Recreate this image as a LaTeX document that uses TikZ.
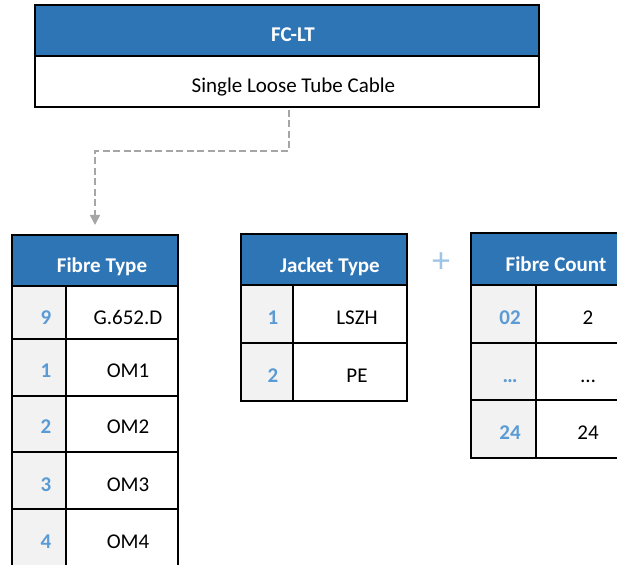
\documentclass[tikz,border=0pt]{standalone}
\usepackage{fontspec}
\setmainfont{Carlito}
\usetikzlibrary{calc,arrows.meta}
\definecolor{hdrblue}{HTML}{2E75B6}
\definecolor{numblue}{HTML}{5B9BD5}
\definecolor{cellgray}{HTML}{F2F2F2}
\definecolor{conngray}{HTML}{A6A6A6}
\definecolor{plusblue}{HTML}{9DC3E6}
\begin{document}
\begin{tikzpicture}[x=1pt,y=1pt,
  box/.style={inner sep=0pt, outer sep=0pt, anchor=north west},
  hdr/.style={box, fill=hdrblue},
  keycell/.style={box, fill=cellgray},
  valcell/.style={box, fill=white},
  hdrtext/.style={anchor=base, text=white, font=\fontsize{21}{21}\selectfont\bfseries, inner sep=0pt},
  keytext/.style={anchor=base, text=numblue, font=\fontsize{21}{21}\selectfont\bfseries, inner sep=0pt},
  valtext/.style={anchor=base, text=black, font=\fontsize{21}{21}\selectfont, inner sep=0pt},
  frame/.style={draw=black, line width=1.6pt},
  conn/.style={draw=conngray, line width=1.5pt, dash pattern=on 7pt off 3.5pt, -{Triangle[length=10pt,width=10pt]}}]
\useasboundingbox (0,0) rectangle (617,564);
\clip (0,0) rectangle (617,564);
% top box
\node[hdr, minimum width=504, minimum height=51] (tophdr) at (35,559) {};
\node[valcell, minimum width=504, minimum height=51] (topbody) at (35,508) {};
% fibre type
\node[hdr, minimum width=166, minimum height=51] (fth) at (12,329) {};
\node[keycell, minimum width=54, minimum height=53] (ftk1) at (12,278) {};
\node[valcell, minimum width=112, minimum height=53] (ftv1) at (66,278) {};
\node[keycell, minimum width=54, minimum height=57] (ftk2) at (12,225) {};
\node[valcell, minimum width=112, minimum height=57] (ftv2) at (66,225) {};
\node[keycell, minimum width=54, minimum height=56] (ftk3) at (12,168) {};
\node[valcell, minimum width=112, minimum height=56] (ftv3) at (66,168) {};
\node[keycell, minimum width=54, minimum height=57] (ftk4) at (12,112) {};
\node[valcell, minimum width=112, minimum height=57] (ftv4) at (66,112) {};
\node[keycell, minimum width=54, minimum height=57] (ftk5) at (12,55) {};
\node[valcell, minimum width=112, minimum height=57] (ftv5) at (66,55) {};
% jacket type
\node[hdr, minimum width=166, minimum height=51] (jth) at (241,330) {};
\node[keycell, minimum width=52, minimum height=58] (jtk1) at (241,279) {};
\node[valcell, minimum width=114, minimum height=58] (jtv1) at (293,279) {};
\node[keycell, minimum width=52, minimum height=58] (jtk2) at (241,221) {};
\node[valcell, minimum width=114, minimum height=58] (jtv2) at (293,221) {};
% fibre count
\node[hdr, minimum width=179, minimum height=52] (fch) at (471,331) {};
\node[keycell, minimum width=65, minimum height=58] (fck1) at (471,279) {};
\node[valcell, minimum width=114, minimum height=58] (fcv1) at (536,279) {};
\node[keycell, minimum width=65, minimum height=57] (fck2) at (471,221) {};
\node[valcell, minimum width=114, minimum height=57] (fcv2) at (536,221) {};
\node[keycell, minimum width=65, minimum height=58] (fck3) at (471,164) {};
\node[valcell, minimum width=114, minimum height=58] (fcv3) at (536,164) {};
% frames
\foreach \n in {tophdr,topbody,fth,ftk1,ftv1,ftk2,ftv2,ftk3,ftv3,ftk4,ftv4,ftk5,ftv5,
  jth,jtk1,jtv1,jtk2,jtv2,fch,fck1,fcv1,fck2,fcv2,fck3,fcv3}
  \draw[frame] (\n.north west) rectangle (\n.south east);
% texts
\node[hdrtext] (t1) at (293,522) {FC-LT};
\node[valtext] (t2) at (293.5,471) {Single Loose Tube Cable};
\node[hdrtext] (t3) at (102,291) {Fibre Type};
\node[hdrtext] (t4) at (330,291) {Jacket Type};
\node[hdrtext] (t5) at (556,292) {Fibre Count};
\node[keytext] (a1) at (46,239) {9};
\node[valtext] (b1) at (128,239) {G.652.D};
\node[keytext] (a2) at (46,186) {1};
\node[valtext] (b2) at (128,186) {OM1};
\node[keytext] (a3) at (46,130) {2};
\node[valtext] (b3) at (128,130) {OM2};
\node[keytext] (a4) at (46,73) {3};
\node[valtext] (b4) at (128,73) {OM3};
\node[keytext] (a5) at (46,16) {4};
\node[valtext] (b5) at (128,16) {OM4};
\node[keytext] (c1) at (273,239) {1};
\node[valtext] (d1) at (357,239) {LSZH};
\node[keytext] (c2) at (273,181) {2};
\node[valtext] (d2) at (357,181) {PE};
\node[keytext] (e1) at (510,239) {02};
\node[valtext] (f1) at (588,239) {2};
\node[keytext] (e2) at (510,181) {…};
\node[valtext] (f2) at (588,181) {…};
\node[keytext] (e3) at (510,124) {24};
\node[valtext] (f3) at (588,124) {24};
\node[text=plusblue, font=\fontsize{36}{36}\selectfont, inner sep=0pt] (plus) at (441,301) {+};
% connector
\draw[conn] ($(topbody.south)+(2,-3)$) -- ++(0,-41) -| ($(fth.north)+(0,10)$);
\end{tikzpicture}
\end{document}
